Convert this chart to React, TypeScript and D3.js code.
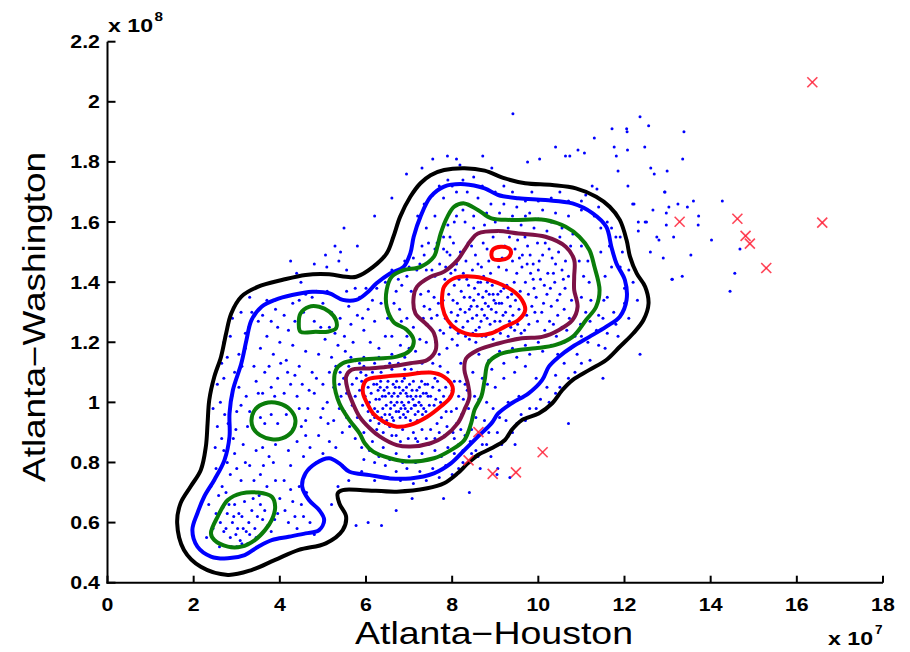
import React from "react";
import * as d3 from "d3";

// Axis ticks (x in units of 1e7, y in units of 1e8)
const xTicks = [0, 2, 4, 6, 8, 10, 12, 14, 16, 18];
const yTicks = [0.4, 0.6, 0.8, 1, 1.2, 1.4, 1.6, 1.8, 2, 2.2];

// Observed traffic pairs (Atlanta-Houston, Atlanta-Washington)
const samplePoints: [number, number][] = [
  // upper dense core
  [7.92,1.36],[8.05,1.39],[8.12,1.33],[8.21,1.37],[8.30,1.30],[8.34,1.41],[8.41,1.35],[8.47,1.28],[8.52,1.38],[8.58,1.32],
  [8.63,1.25],[8.66,1.40],[8.71,1.35],[8.75,1.29],[8.79,1.37],[8.84,1.32],[8.88,1.26],[8.93,1.39],[8.97,1.34],[9.02,1.30],
  [9.06,1.36],[9.11,1.27],[9.15,1.33],[9.20,1.38],[9.24,1.30],[9.29,1.35],[9.35,1.32],[9.41,1.29],[9.47,1.34],[9.55,1.31],
  [7.98,1.30],[8.09,1.27],[8.16,1.41],[8.25,1.25],[8.38,1.39],[8.44,1.32],[8.55,1.24],[8.61,1.36],[8.69,1.31],[8.73,1.42],
  [8.81,1.28],[8.86,1.36],[8.91,1.31],[8.99,1.27],[9.04,1.40],[9.09,1.33],[9.13,1.37],[9.18,1.29],[9.27,1.39],[9.33,1.27],
  [8.02,1.34],[8.19,1.31],[8.28,1.35],[8.36,1.27],[8.50,1.34],[8.57,1.29],[8.67,1.27],[8.77,1.33],[8.95,1.36],[9.01,1.33],
  [8.40,1.31],[8.82,1.40],[9.38,1.36],[8.13,1.29],[8.60,1.40],
  [7.83,1.41],[7.97,1.43],[8.07,1.44],[8.26,1.43],[8.47,1.44],[8.68,1.45],[8.89,1.43],[9.08,1.45],[9.26,1.44],[9.44,1.40],
  [9.58,1.37],[9.66,1.33],[9.73,1.29],[9.68,1.24],[9.52,1.26],[9.36,1.25],[9.19,1.25],[9.03,1.24],[8.86,1.23],[8.69,1.22],
  [8.48,1.23],[8.31,1.22],[8.14,1.23],[7.96,1.25],[7.84,1.28],[7.79,1.34],
  // lower dense core
  [6.12,1.03],[6.20,0.98],[6.25,1.06],[6.31,1.01],[6.36,0.95],[6.42,1.04],[6.47,0.99],[6.51,1.07],[6.55,0.96],[6.60,1.02],
  [6.64,0.94],[6.68,1.05],[6.72,1.00],[6.76,0.97],[6.80,1.03],[6.84,1.07],[6.88,0.99],[6.92,0.95],[6.96,1.02],[7.01,1.06],
  [7.05,0.98],[7.09,1.01],[7.14,0.96],[7.18,1.04],[7.23,1.00],[7.29,1.07],[7.34,0.98],[7.40,1.03],[7.47,0.99],[7.55,1.05],
  [7.62,1.01],[7.70,1.04],[6.28,1.04],[6.39,0.98],[6.45,1.02],[6.58,1.00],[6.63,1.06],[6.70,0.97],[6.74,1.02],[6.79,0.95],
  [6.83,1.00],[6.86,1.04],[6.91,0.98],[6.99,1.00],[7.03,0.94],[7.07,1.04],[7.12,0.99],[7.21,0.97],[7.26,1.02],[7.37,1.06],
  [7.44,1.02],[6.53,1.03],[6.66,0.99],[6.94,1.05],[7.16,1.02],[6.18,1.06],[6.34,1.07],[6.48,0.94],[6.89,1.08],[7.31,0.96],
  [6.05,1.05],[6.08,1.00],[6.16,0.96],[6.23,1.01],[6.27,0.97],[6.33,1.05],[6.38,1.02],[6.44,0.96],[6.49,1.05],[6.57,0.98],
  [6.61,0.95],[6.65,1.03],[6.71,1.07],[6.77,1.05],[6.81,0.98],[6.87,0.96],[6.93,1.03],[6.97,0.97],[7.04,1.02],[7.10,1.07],
  [7.15,0.99],[7.19,0.94],[7.24,1.05],[7.28,0.99],[7.33,1.03],[7.39,0.97],[7.43,1.06],[7.50,1.02],[7.58,0.99],[7.66,1.07],
  [7.73,1.00],[7.80,1.02],[7.86,0.97],
  // middle band
  [7.35,1.32],[7.45,1.37],[7.52,1.28],[7.60,1.42],[7.68,1.33],[7.72,1.24],[7.85,1.45],[7.95,1.49],[8.10,1.46],[8.32,1.47],
  [8.45,1.52],[8.60,1.46],[8.72,1.53],[8.85,1.47],[8.95,1.55],[9.22,1.52],[9.40,1.47],[9.52,1.54],[9.63,1.49],[9.75,1.52],
  [9.88,1.46],[9.98,1.53],[10.10,1.49],[10.25,1.51],[10.40,1.46],[10.55,1.44],[10.62,1.38],[10.70,1.42],[10.50,1.36],[10.38,1.40],
  [10.22,1.43],[10.05,1.41],[9.90,1.38],[9.82,1.43],[9.70,1.40],[9.62,1.45],[9.50,1.43],[9.85,1.32],[9.95,1.35],[10.08,1.30],
  [10.20,1.36],[10.30,1.32],[10.45,1.29],[10.60,1.31],[10.72,1.28],[10.55,1.25],[10.35,1.26],[10.15,1.24],[9.98,1.27],[9.78,1.26],
  [9.60,1.23],[9.45,1.24],[9.30,1.22],[9.12,1.23],[8.95,1.21],[8.78,1.22],[8.55,1.20],[8.40,1.21],[8.62,1.16],[8.48,1.10],
  [8.52,1.02],[8.38,0.98],[8.30,1.06],[8.20,1.13],[8.12,1.19],[8.00,1.21],[7.88,1.18],[7.80,1.23],[7.70,1.16],[7.62,1.20],
  [7.48,1.25],[7.40,1.20],[7.55,1.13],[7.72,1.12],[7.90,1.10],[8.05,1.07],[8.15,1.02],[8.22,0.96],[8.10,0.93],[7.98,0.97],
  [8.02,0.90],[7.88,0.92],[7.75,0.95],[7.82,0.89],[7.65,0.93],[7.60,0.88],[7.50,0.91],[7.40,0.88],[7.30,0.91],[7.20,0.87],
  [7.10,0.90],[6.98,0.88],[6.85,0.91],[6.70,0.89],[6.55,0.92],[6.40,0.90],[6.30,0.93],[6.20,0.95],[6.05,0.97],[5.92,0.99],
  [5.85,1.04],[5.78,1.08],[5.88,1.10],[6.00,1.09],[6.15,1.10],[6.35,1.10],[6.60,1.11],[6.90,1.11],[7.20,1.10],[7.45,1.10],
  [7.85,1.05],[7.95,1.02],[7.05,1.11],
  [7.65,1.29],[7.58,1.35],[7.48,1.31],[7.42,1.26],[7.33,1.28],[7.27,1.36],[7.38,1.41],[7.53,1.44],[7.71,1.46],[7.88,1.50],
  [8.03,1.53],[8.19,1.50],[8.37,1.53],[8.54,1.49],[8.81,1.51],[9.16,1.48],[9.33,1.55],[9.46,1.51],[9.69,1.55],[9.81,1.49],
  [10.02,1.47],[10.16,1.53],[10.32,1.48],[10.47,1.50],[10.63,1.47],[10.77,1.34],[10.66,1.24],[10.42,1.22],[10.26,1.27],[10.12,1.33],
  [9.92,1.30],[9.77,1.36],[9.88,1.41],[10.00,1.44],[10.14,1.39],[10.28,1.38],[10.44,1.34],[10.58,1.41],[10.35,1.43],[9.56,1.48],
  [9.74,1.46],
  [7.92,1.07],[8.00,1.04],[8.10,0.98],[8.18,1.07],[8.26,1.01],[8.35,1.04],[8.20,0.91],[8.05,0.88],[7.70,0.90],[7.45,0.86],
  [7.15,0.88],[6.80,0.87],[6.60,0.89],[6.45,0.93],[6.25,0.91],[6.10,0.94],[5.98,1.02],[5.90,1.07],[5.75,1.02],[5.68,1.06],
  [5.95,1.12],[6.45,1.12],[6.75,1.13],[7.30,1.13],[7.60,1.08],
  // outer band
  [7.25,1.46],[7.40,1.44],[7.55,1.48],[7.65,1.53],[7.80,1.55],[7.90,1.59],[8.10,1.62],[8.30,1.60],[8.50,1.58],[8.75,1.59],
  [9.00,1.60],[9.30,1.58],[9.60,1.59],[9.90,1.58],[10.20,1.57],[10.50,1.55],[10.75,1.52],[10.95,1.47],[11.05,1.42],[11.00,1.35],
  [11.10,1.30],[10.98,1.26],[10.85,1.22],[10.60,1.20],[10.30,1.19],[10.00,1.20],[9.70,1.19],[9.40,1.18],[9.10,1.17],[8.85,1.14],
  [8.70,1.08],[8.62,1.01],[8.55,0.95],[8.45,0.91],[8.30,0.89],[8.15,0.86],[7.90,0.85],[7.60,0.84],[7.30,0.83],[7.00,0.82],
  [6.70,0.83],[6.40,0.85],[6.15,0.87],[5.95,0.90],[5.80,0.95],[5.68,0.99],[5.55,1.03],[5.48,1.08],[5.60,1.12],[5.85,1.13],
  [6.20,1.13],[6.55,1.13],[6.90,1.15],[7.15,1.17],[7.25,1.21],[7.10,1.25],[6.95,1.28],[6.78,1.31],[6.70,1.37],[6.75,1.41],
  [6.95,1.42],[7.05,1.37],
  [5.42,1.02],[5.50,0.97],[5.62,0.92],[5.75,0.88],[5.90,0.85],[6.08,0.84],[6.30,0.82],[6.55,0.81],[6.85,0.80],[7.15,0.80],
  [7.45,0.81],[7.75,0.82],[8.05,0.83],[8.25,0.84],[8.42,0.87],[8.60,0.89],[8.75,0.94],[8.80,1.00],[8.82,1.06],[8.92,1.11],
  [9.20,1.13],[9.50,1.15],[9.80,1.16],[10.10,1.17],[10.45,1.16],[10.75,1.18],[11.00,1.22],[11.20,1.27],[11.22,1.34],[11.18,1.40],
  [11.15,1.47],[11.00,1.52],[10.80,1.56],[10.55,1.58],[10.30,1.60],[10.00,1.61],[9.70,1.62],[9.40,1.62],[9.10,1.63],[8.80,1.63],
  [8.50,1.62],[8.25,1.64],[8.05,1.60],[7.95,1.55],[7.80,1.51],[7.60,1.51],[7.45,1.53],[7.35,1.49],[7.18,1.44],[7.00,1.45],
  [6.83,1.39],[6.65,1.33],[6.82,1.27],[6.95,1.22],[7.00,1.18],[6.60,1.16],[6.30,1.15],[5.95,1.15],[5.65,1.15],[5.45,1.13],
  [5.38,1.06],
  [11.45,1.50],[11.55,1.42],[11.60,1.35],[11.50,1.28],[11.35,1.24],[11.15,1.20],[10.90,1.16],[10.60,1.13],[10.40,1.09],[10.20,1.05],
  [9.95,1.08],[9.70,1.12],[9.45,1.10],[9.20,1.08],[9.00,1.05],[8.95,0.98],[9.10,0.95],[9.30,1.00],[9.55,1.02],[8.85,0.90],
  [8.70,0.86],[8.55,0.84],[8.40,0.80],[8.15,0.78],[7.85,0.79],[7.55,0.78],[7.25,0.77],[6.95,0.78],[6.70,0.77],[6.45,0.79],
  [6.20,0.80],[5.95,0.81],[11.80,1.55],[11.90,1.45],[12.00,1.38],[11.75,1.30],[11.60,1.60],[11.30,1.62],[11.00,1.64],[10.70,1.62],
  [10.40,1.63],[10.10,1.64],[9.80,1.63],[9.50,1.65],[9.20,1.66],[8.90,1.66],[8.60,1.68],[8.35,1.70],[8.10,1.70],[7.80,1.68],
  [7.60,1.62],[7.40,1.58],[7.30,1.52],[7.10,1.48],[6.90,1.47],[6.60,1.44],[12.20,1.40],[12.30,1.34],[12.10,1.28],[11.85,1.22],
  [11.55,1.18],[11.20,1.14],[10.85,1.10],[10.50,1.05],[10.25,1.00],[9.95,0.98],[9.70,0.94],[9.40,0.90],[9.15,0.86],[8.90,0.82],
  [8.65,0.78],[9.85,1.70],[10.50,1.70],[11.10,1.69],[7.90,1.74],[8.50,1.75],[9.20,1.72],
  [7.20,1.62],[7.35,1.66],[7.55,1.69],[7.70,1.72],[8.00,1.72],[8.25,1.74],[8.70,1.72],[9.00,1.70],[9.40,1.70],[9.70,1.67],
  [10.00,1.67],[10.30,1.68],[10.70,1.67],[11.00,1.67],[11.40,1.65],[11.70,1.58],[11.90,1.55],[11.95,1.50],[12.10,1.44],[12.00,1.33],
  [11.80,1.26],[11.60,1.23],[11.40,1.19],[11.00,1.13],[10.70,1.08],[10.40,1.03],[10.05,1.01],[9.80,0.98],[9.60,0.96],[9.50,0.93],
  [9.25,0.94],[9.05,0.90],[8.80,0.86],[8.60,0.82],[8.45,0.83],[8.25,0.80],[8.00,0.76],[7.70,0.75],[7.40,0.74],[7.10,0.73],
  [6.80,0.74],[6.50,0.75],[6.20,0.74],[5.90,0.77],[5.60,0.74],[5.45,0.79],[11.70,1.45],[11.65,1.52],[11.45,1.58],[11.52,1.34],
  [11.40,1.29],
  // lower-left lobe
  [2.62,0.60],[2.70,0.57],[2.78,0.63],[2.85,0.55],[2.90,0.60],[2.95,0.66],[3.02,0.58],[3.08,0.54],[3.12,0.62],[3.18,0.67],
  [3.22,0.57],[3.28,0.60],[3.35,0.64],[3.42,0.58],[3.48,0.62],[3.55,0.66],[2.88,0.52],[2.98,0.56],[3.05,0.63],[3.15,0.58],
  [3.38,0.68],[2.75,0.58],[2.68,0.65],[3.25,0.53],[3.60,0.61],
  [2.30,0.55],[2.35,0.66],[2.40,0.72],[2.52,0.78],[2.60,0.52],[3.80,0.57],[3.95,0.63],[4.05,0.55],[4.20,0.60],[4.30,0.67],
  [4.40,0.58],[4.55,0.62],[4.70,0.60],[4.80,0.56],[3.70,0.72],[3.55,0.76],[3.85,0.80],[4.10,0.74],[4.25,0.79],[4.45,0.72],
  [4.00,0.68],[2.85,0.76],[3.10,0.74],[3.30,0.79],[2.70,0.84],[2.95,0.83],[5.20,0.66],
  [2.45,0.58],[2.52,0.63],[2.58,0.69],[2.66,0.72],[2.75,0.70],[2.82,0.66],[2.93,0.62],[3.00,0.52],[3.12,0.53],[3.30,0.56],
  [3.45,0.55],[3.52,0.69],[3.65,0.64],[3.72,0.59],[3.88,0.61],[4.12,0.64],[4.35,0.62],[4.50,0.66],[4.62,0.70],[4.25,0.71],
  [3.90,0.74],[3.62,0.79],[3.40,0.74],[3.20,0.80],[3.00,0.78],[2.78,0.80],
  [2.55,0.92],[2.62,1.00],[2.70,1.08],[2.78,1.15],[2.85,1.22],[2.92,0.88],[3.00,0.97],[3.05,1.05],[3.12,1.12],[3.20,1.18],
  [3.28,1.25],[3.35,1.30],[3.15,0.86],[3.25,0.92],[3.45,0.84],[3.60,0.85],[3.75,0.82],[3.90,0.86],[4.05,0.88],[4.20,0.84],
  [4.40,0.87],[4.55,0.82],[4.70,0.85],[4.85,0.80],[5.00,0.83],[5.15,0.87],[5.30,0.85],[5.45,0.90],[5.55,0.95],[4.50,0.92],
  [4.65,0.98],[4.80,1.03],[4.95,0.95],[5.10,1.00],[5.25,1.05],[5.40,1.10],[4.40,1.02],[4.25,1.06],[4.10,1.03],[3.95,1.08],
  [3.80,1.05],[3.65,1.10],[3.50,1.03],[3.40,1.12],[3.55,1.18],[3.70,1.22],[3.85,1.16],[4.00,1.20],[4.15,1.14],[4.30,1.19],
  [4.45,1.12],[4.60,1.17],[4.75,1.10],[4.90,1.16],[5.05,1.21],[5.20,1.15],[5.35,1.19],[5.50,1.22],[5.65,1.26],[5.80,1.29],
  [5.95,1.24],[6.10,1.20],[6.30,1.18],[6.45,1.22],[6.20,1.27],[6.05,1.31],[5.85,1.35],[5.60,1.32],[5.40,1.28],[5.20,1.30],
  [5.00,1.33],[4.75,1.35],[4.55,1.30],[4.30,1.33],[4.10,1.29],[3.90,1.31],[3.70,1.34],[3.50,1.27],[3.65,0.93],[3.80,0.96],
  [3.95,0.93],[4.15,0.96],[3.55,0.95],[4.80,1.27],[4.95,1.25],[5.15,1.25],[6.50,1.28],[6.35,1.33],[6.25,1.38],[6.60,1.22],
  [6.80,1.19],[6.45,1.40],
  [2.65,0.88],[2.80,0.93],[2.98,0.91],[3.10,0.99],[3.22,1.02],[3.30,0.97],[3.45,1.07],[3.60,1.03],[3.75,1.12],[3.88,1.02],
  [4.02,1.13],[4.18,1.10],[4.35,1.09],[4.52,1.06],[4.68,1.04],[4.85,1.08],[5.00,1.06],[5.15,1.10],[5.30,1.12],[5.12,0.93],
  [4.90,0.89],[4.60,0.89],[4.30,0.91],[4.45,0.98],[4.60,0.94],[5.00,0.98],[5.25,0.94],[5.38,0.98],[3.95,1.25],[3.80,1.27],
  [3.60,1.29],[4.20,1.24],[4.35,1.27],[4.45,1.34],[4.60,1.36],[4.85,1.37],[5.10,1.37],[5.35,1.35],[5.55,1.37],[5.75,1.38],
  [6.00,1.38],[6.15,1.34],[5.92,1.28],[5.70,1.20],[5.52,1.17],[5.28,1.23],[3.20,1.23],[3.05,1.16],[2.95,1.10],[2.88,1.02],
  [2.72,0.96],[2.50,0.85],[2.45,0.98],[2.55,1.06],[2.65,1.13],[2.70,1.20],[2.90,1.28],[3.10,1.30],[3.30,1.35],
  // sparse points beyond the outer contour
  [6.94,1.76],[5.49,1.58],[5.28,1.52],[5.41,1.50],[5.06,1.49],[5.37,1.47],[5.09,1.45],[5.55,1.44],[4.39,1.43],[4.49,1.40],
  [7.89,1.82],[8.10,1.81],[8.71,1.82],[9.41,1.96],[10.73,1.82],[11.07,1.83],[9.06,0.78],[9.04,0.76],[9.34,0.75],[9.46,0.86],
  [7.07,0.68],[6.36,0.59],[6.05,0.60],[5.77,0.59],[5.35,0.72],[12.36,1.16],[12.60,1.50],[12.75,1.55],[12.32,1.60],[12.08,1.72],
  [12.94,1.70],[12.19,1.66],[12.66,1.64],[13.24,1.66],[12.51,1.60],[13.10,1.41],[11.81,1.82],
  [7.55,1.81],[8.18,1.79],[8.92,1.78],[10.03,1.81],[11.36,1.71],[11.71,1.91],[12.06,1.90],[12.47,1.85],
  [12.36,1.95],[12.05,1.91],[12.56,1.92],[13.38,1.90],[10.92,1.84],[11.76,1.85],[12.07,1.84],[10.63,1.82],[13.35,1.81],[11.85,1.77],
  [12.61,1.78],[12.69,1.76],[12.99,1.77],[11.25,1.72],[12.93,1.70],[12.22,1.66],[13.03,1.65],[13.46,1.65],[13.60,1.67],[14.27,1.67],
  [12.97,1.63],[13.72,1.62],[12.48,1.60],[12.97,1.59],[13.71,1.59],[12.32,1.57],[13.14,1.55],[12.80,1.54],[14.02,1.54],[14.68,1.51],
  [13.54,1.49],[14.56,1.43],[13.11,1.41],[13.34,1.42],[14.45,1.37],
  [6.60,1.68],[6.20,1.62],[5.80,1.52],[4.80,1.46],[4.25,1.47],[9.75,1.80],[10.40,1.85],[11.30,1.88],[7.30,1.78],[8.40,0.70],
  [7.80,0.68],[6.70,0.64],[10.70,0.93],[11.50,1.08],[12.90,1.48],
];

// Flagged anomalies
const anomalies: [number, number][] = [
  [16.36,2.065],[13.28,1.601],[14.62,1.611],[14.81,1.554],[14.91,1.528],[15.29,1.447],[16.59,1.598],
  [8.61,0.901],[8.38,0.807],[8.94,0.762],[9.48,0.767],[10.10,0.834],
];

// Density contour levels, each traced as a closed path in data units
const contourOuter: [number, number][] = [
  [7.499,1.756],[7.813,1.773],[8.284,1.779],[8.754,1.771],[9.225,1.745],[9.695,1.729],[10.323,1.723],[10.872,1.712],
  [11.342,1.684],[11.656,1.651],[11.891,1.607],[12.048,1.540],[12.127,1.485],[12.283,1.429],[12.479,1.385],[12.558,1.329],
  [12.440,1.274],[12.205,1.230],[11.891,1.185],[11.577,1.141],[11.185,1.108],[10.793,1.074],[10.558,1.041],[10.323,0.997],
  [10.009,0.963],[9.617,0.941],[9.381,0.908],[9.225,0.875],[8.911,0.847],[8.597,0.825],[8.362,0.797],[8.127,0.764],
  [7.813,0.731],[7.421,0.714],[6.715,0.703],[5.931,0.708],[5.460,0.708],[5.342,0.697],[5.381,0.664],[5.538,0.620],
  [5.460,0.575],[5.068,0.531],[4.440,0.509],[3.891,0.476],[3.342,0.442],[2.793,0.426],[2.166,0.453],[1.774,0.509],
  [1.617,0.598],[1.695,0.664],[1.930,0.720],[2.166,0.775],[2.283,0.853],[2.323,0.930],[2.362,1.008],[2.479,1.085],
  [2.636,1.152],[2.754,1.230],[2.872,1.296],[3.107,1.352],[3.499,1.385],[4.048,1.407],[4.597,1.424],[5.146,1.426],
  [5.538,1.418],[5.774,1.418],[6.166,1.451],[6.480,1.496],[6.636,1.551],[6.793,1.618],[7.029,1.684],[7.264,1.729],
];
const contourSecond: [number, number][] = [
  [7.499,1.684],[7.813,1.718],[8.284,1.726],[8.754,1.712],[9.068,1.690],[9.538,1.679],[10.166,1.673],[10.793,1.662],
  [11.264,1.629],[11.577,1.584],[11.695,1.518],[11.813,1.462],[12.009,1.407],[12.048,1.341],[11.891,1.285],[11.577,1.252],
  [11.185,1.218],[10.793,1.185],[10.479,1.152],[10.244,1.119],[10.087,1.074],[9.774,1.030],[9.381,0.997],[9.068,0.963],
  [8.911,0.930],[8.597,0.886],[8.284,0.841],[7.970,0.797],[7.577,0.764],[7.029,0.747],[6.558,0.747],[6.087,0.758],
  [5.617,0.769],[5.381,0.797],[5.146,0.814],[4.833,0.797],[4.597,0.764],[4.519,0.720],[4.676,0.675],[4.911,0.642],
  [5.029,0.609],[4.911,0.575],[4.597,0.564],[4.205,0.553],[3.813,0.542],[3.499,0.520],[3.185,0.492],[2.793,0.481],
  [2.401,0.487],[2.087,0.520],[1.970,0.575],[2.087,0.631],[2.244,0.686],[2.479,0.742],[2.715,0.808],[2.832,0.886],
  [2.832,0.963],[2.911,1.041],[3.107,1.130],[3.225,1.207],[3.342,1.274],[3.577,1.318],[3.891,1.341],[4.284,1.357],
  [4.754,1.368],[5.146,1.363],[5.460,1.341],[5.774,1.341],[6.009,1.363],[6.244,1.396],[6.558,1.429],[6.872,1.451],
  [7.029,1.496],[7.107,1.551],[7.264,1.618],
];
const contourThirdMain: [number, number][] = [
  [8.284,1.662],[8.597,1.640],[8.911,1.612],[9.381,1.607],[10.166,1.607],[10.636,1.584],[10.950,1.551],[11.185,1.507],
  [11.303,1.451],[11.421,1.374],[11.342,1.318],[11.107,1.274],[10.793,1.218],[10.401,1.191],[9.930,1.180],[9.538,1.174],
  [9.068,1.158],[8.832,1.130],[8.754,1.074],[8.676,1.019],[8.519,0.975],[8.440,0.930],[8.284,0.875],[7.970,0.841],
  [7.577,0.814],[7.029,0.803],[6.558,0.814],[6.166,0.836],[5.970,0.864],[5.852,0.897],[5.617,0.941],[5.381,0.997],
  [5.264,1.063],[5.303,1.108],[5.460,1.130],[5.774,1.141],[6.244,1.146],[6.715,1.152],[7.029,1.174],[7.107,1.207],
  [6.950,1.241],[6.636,1.268],[6.480,1.318],[6.480,1.374],[6.597,1.418],[6.872,1.440],[7.264,1.451],[7.577,1.485],
  [7.656,1.518],[7.734,1.562],[7.891,1.618],[8.048,1.651],
];
const contourThirdA: [number, number][] = [
  [4.440,1.263],[4.479,1.296],[4.676,1.318],[4.911,1.318],[5.146,1.302],[5.303,1.274],[5.303,1.246],[5.107,1.235],
  [4.833,1.235],[4.479,1.235],
];
const contourThirdB: [number, number][] = [
  [3.342,0.941],[3.421,0.975],[3.656,0.997],[3.970,0.997],[4.244,0.975],[4.362,0.941],[4.284,0.903],[4.048,0.880],
  [3.813,0.877],[3.538,0.891],[3.382,0.914],
];
const contourThirdC: [number, number][] = [
  [2.401,0.564],[2.558,0.620],[2.793,0.675],[3.107,0.697],[3.499,0.700],[3.813,0.686],[3.891,0.653],[3.813,0.609],
  [3.656,0.575],[3.421,0.542],[3.107,0.520],[2.793,0.520],[2.479,0.542],
];
const contourFourth: [number, number][] = [
  [8.597,1.562],[9.068,1.570],[9.538,1.562],[10.166,1.551],[10.636,1.518],[10.832,1.474],[10.832,1.418],[10.832,1.374],
  [10.911,1.318],[10.793,1.274],[10.479,1.241],[10.087,1.218],[9.617,1.213],[9.068,1.196],[8.597,1.174],[8.323,1.146],
  [8.284,1.108],[8.362,1.063],[8.401,1.019],[8.284,0.975],[8.127,0.930],[7.813,0.886],[7.499,0.864],[7.029,0.853],
  [6.715,0.858],[6.323,0.886],[6.087,0.914],[5.852,0.952],[5.695,0.997],[5.578,1.041],[5.538,1.085],[5.656,1.108],
  [6.087,1.113],[6.558,1.119],[7.029,1.130],[7.421,1.141],[7.617,1.174],[7.577,1.230],[7.381,1.263],[7.146,1.296],
  [7.107,1.352],[7.185,1.385],[7.499,1.418],[7.813,1.435],[8.127,1.474],[8.284,1.507],[8.440,1.540],
];
const contourPeakUpper: [number, number][] = [
  [7.813,1.385],[8.048,1.413],[8.519,1.418],[8.989,1.401],[9.381,1.374],[9.617,1.341],[9.695,1.307],[9.538,1.274],
  [9.225,1.252],[8.911,1.230],[8.519,1.224],[8.127,1.241],[7.891,1.274],[7.774,1.318],[7.774,1.363],
];
const contourPeakSmall: [number, number][] = [
  [8.911,1.490],[8.950,1.509],[9.130,1.518],[9.318,1.512],[9.366,1.501],[9.303,1.482],[9.107,1.474],[8.950,1.477],
];
const contourPeakLower: [number, number][] = [
  [5.931,1.052],[6.009,1.074],[6.401,1.085],[6.872,1.091],[7.499,1.099],[7.813,1.085],[8.009,1.052],[7.970,1.019],
  [7.734,0.986],[7.421,0.952],[7.029,0.925],[6.715,0.919],[6.401,0.936],[6.166,0.963],[6.009,1.002],[5.931,1.030],
];

const contours = [
  { path: contourOuter, color: "#000000" },
  { path: contourSecond, color: "#0000ff" },
  { path: contourThirdMain, color: "#0a7d0a" },
  { path: contourThirdA, color: "#0a7d0a" },
  { path: contourThirdB, color: "#0a7d0a" },
  { path: contourThirdC, color: "#0a7d0a" },
  { path: contourFourth, color: "#7d1246" },
  { path: contourPeakUpper, color: "#ff0000" },
  { path: contourPeakSmall, color: "#ff0000" },
  { path: contourPeakLower, color: "#ff0000" },
];

const W = 910;
const H = 652;
const plot = { left: 107.5, right: 883, top: 41.7, bottom: 582.7 };
const FONT = "'Liberation Sans', Arial, Helvetica, sans-serif";
const STRETCH = 1.22;

export default function App() {
  const x = d3.scaleLinear().domain([0, 18]).range([plot.left, plot.right]);
  const y = d3.scaleLinear().domain([0.4, 2.2]).range([plot.bottom, plot.top]);
  const line = d3
    .line<[number, number]>()
    .x((d) => x(d[0]))
    .y((d) => y(d[1]))
    .curve(d3.curveCatmullRomClosed.alpha(0.5));

  return (
    <svg
      width={W}
      height={H}
      viewBox={`0 0 ${W} ${H}`}
      style={{ position: "absolute", left: 0, top: 0, background: "#fff" }}
    >
      <rect width={W} height={H} fill="#fff" />

      {/* scatter */}
      <g fill="#0000ff">
        {samplePoints.map((p, i) => (
          <circle key={i} cx={x(p[0])} cy={y(p[1])} r={1.5} />
        ))}
      </g>

      {/* density contours */}
      <g fill="none" strokeWidth={4} strokeLinejoin="round">
        {contours.map((c, i) => (
          <path key={i} d={line(c.path) ?? ""} stroke={c.color} />
        ))}
      </g>

      {/* anomalies */}
      <g stroke="#ff2238" strokeWidth={1.6} strokeOpacity={0.85}>
        {anomalies.map((p, i) => {
          const cx = x(p[0]);
          const cy = y(p[1]);
          const s = 5;
          return (
            <g key={i}>
              <line x1={cx - s} y1={cy - s} x2={cx + s} y2={cy + s} />
              <line x1={cx - s} y1={cy + s} x2={cx + s} y2={cy - s} />
            </g>
          );
        })}
      </g>

      {/* axes */}
      <g stroke="#000" strokeWidth={2} fill="none">
        <line x1={plot.left} y1={plot.top} x2={plot.left} y2={plot.bottom + 1} />
        <line x1={plot.left - 1} y1={plot.bottom} x2={plot.right} y2={plot.bottom} />
        {yTicks.map((t) => (
          <line key={"yt" + t} x1={plot.left} y1={y(t)} x2={plot.left + 8} y2={y(t)} />
        ))}
        {xTicks.map((t) => (
          <line key={"xt" + t} x1={x(t)} y1={plot.bottom} x2={x(t)} y2={plot.bottom - 7} />
        ))}
      </g>

      <g fontFamily={FONT} fontWeight="bold" fontSize={17.5} fill="#000">
        {yTicks.map((t) => (
          <text
            key={"yl" + t}
            transform={`translate(100,${y(t) + 6.5}) scale(${STRETCH},1)`}
            textAnchor="end"
          >
            {String(t)}
          </text>
        ))}
        {xTicks.map((t) => (
          <text
            key={"xl" + t}
            transform={`translate(${x(t)},610.5) scale(${STRETCH},1)`}
            textAnchor="middle"
          >
            {String(t)}
          </text>
        ))}
        <text x={108} y={32} fontSize={17.5} textLength={45} lengthAdjust="spacingAndGlyphs">
          x 10
        </text>
        <text x={154.5} y={21} fontSize={13} textLength={8.5} lengthAdjust="spacingAndGlyphs">
          8
        </text>
        <text x={828} y={645} fontSize={17.5} textLength={45} lengthAdjust="spacingAndGlyphs">
          x 10
        </text>
        <text x={875} y={634} fontSize={13} textLength={7.5} lengthAdjust="spacingAndGlyphs">
          7
        </text>
      </g>

      <g fontFamily={FONT} fontSize={30.5} fill="#000">
        <text x={494} y={644} textAnchor="middle" textLength={278} lengthAdjust="spacingAndGlyphs">
          Atlanta−Houston
        </text>
        <text
          transform="translate(45,317) rotate(-90)"
          textAnchor="middle"
          textLength={330}
          lengthAdjust="spacingAndGlyphs"
        >
          Atlanta−Washington
        </text>
      </g>
    </svg>
  );
}
